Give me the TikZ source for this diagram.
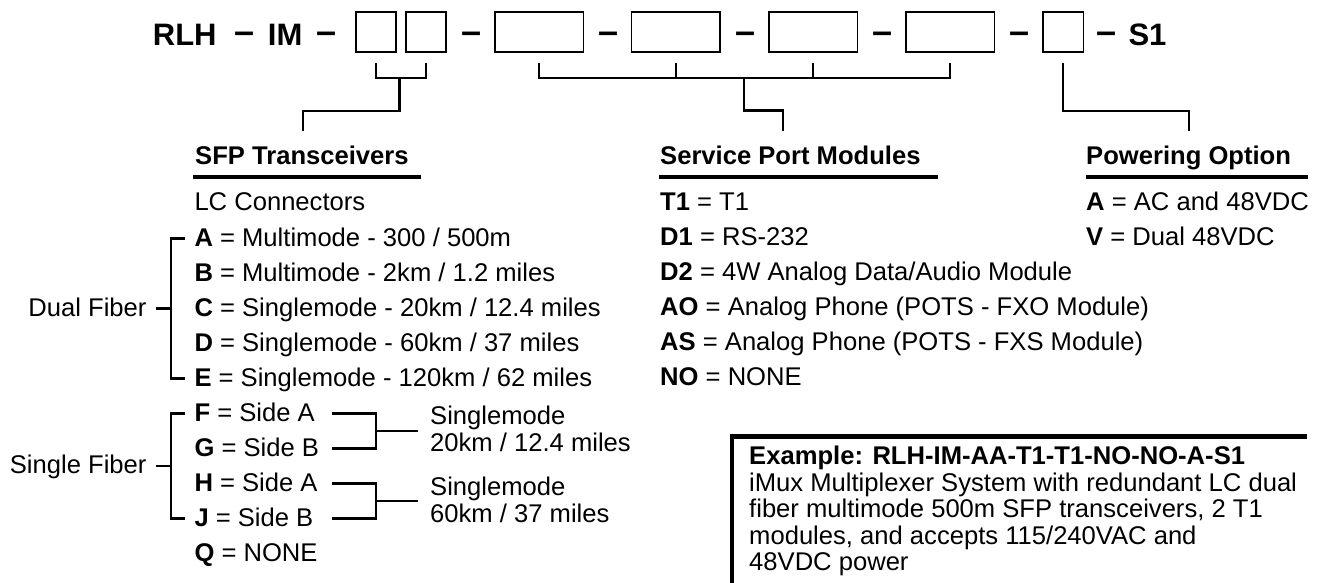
\documentclass[tikz,border=0pt]{standalone}
\usepackage{fontspec}
\setmainfont{Liberation Sans}
\usetikzlibrary{calc}
\begin{document}
\begin{tikzpicture}[x=1pt,y=-1pt,
  txt/.style={anchor=base west, inner sep=0pt, font=\fontsize{25.6}{30}\selectfont},
  hdr/.style={anchor=base west, inner sep=0pt, font=\fontsize{25.6}{30}\selectfont\bfseries},
  ttl/.style={anchor=base west, inner sep=0pt, font=\fontsize{31}{36}\selectfont\bfseries},
  dsh/.style={anchor=base, inner sep=0pt, font=\fontsize{36}{40}\selectfont\bfseries},
  slot/.style={draw, line width=1.5pt, minimum height=40.2pt, inner sep=0pt},
  nslot/.style={slot, minimum width=40.2pt},
  wslot/.style={slot, minimum width=88.5pt},
  brk/.style={line width=2.2pt},
  rulebar/.style={line width=3.5pt},
  frame/.style={line width=4.5pt}
]
\useasboundingbox (0,0) rectangle (1319,582);

% ---------- title row ----------
\node[ttl] (rlh) at (152.7,45.7) {RLH};
\node[dsh] (d0) at (245,43) {–};
\node[ttl] (im) at (267.7,45.7) {IM};
\node[dsh] (d1) at (326.7,43) {–};
\node[nslot] (b1) at (375.85,31.85) {};
\node[nslot] (b2) at (425.85,31.85) {};
\node[dsh] (d2) at (471.3,43) {–};
\node[wslot] (b3) at (539,31.85) {};
\node[dsh] (d3) at (608.7,43) {–};
\node[wslot] (b4) at (675.7,31.85) {};
\node[dsh] (d4) at (745,43) {–};
\node[wslot] (b5) at (813.3,31.85) {};
\node[dsh] (d5) at (882,43) {–};
\node[wslot] (b6) at (950,31.85) {};
\node[dsh] (d6) at (1019.7,43) {–};
\node[nslot] (b7) at (1063.15,31.85) {};
\node[dsh] (d7) at (1106.7,43) {–};
\node[ttl] (s1) at (1128.3,45.7) {S1};

% ---------- level coordinates ----------
\coordinate (top) at (0,63.3);
\coordinate (mid) at (0,78.3);
\coordinate (lv1) at (0,111);
\coordinate (lv2) at (0,110.5);

% ---------- headers ----------
\node[hdr] (sfp) at (195,164) {SFP Transceivers};
\node[hdr] (spm) at (660,164) {Service Port Modules};
\node[hdr] (pwr) at (1086,164) {Powering Option};
\draw[rulebar] (193,177) -- (421,177);
\draw[rulebar] (659,177) -- (938,177);
\draw[rulebar] (1086,177) -- (1308,177);

% ---------- connectors from slots ----------
\coordinate (sfpj) at (399.5,78.3);
\coordinate (sfpe) at (303.3,130.7);
\draw[brk] (b1.south |- top) |- (b2.south |- mid) -- (b2.south |- top);
\draw[brk] (sfpj) |- (sfpe |- lv1) -- (sfpe);

\coordinate (spj) at (744,78.3);
\coordinate (spe) at (783.3,130.7);
\draw[brk] (b3.south |- top) |- (b6.south |- mid) -- (b6.south |- top);
\draw[brk] (b4.south |- top) -- (b4.south |- mid);
\draw[brk] (b5.south |- top) -- (b5.south |- mid);
\draw[brk] (spj) |- (spe |- lv2) -- (spe);

\coordinate (pwe) at (1189,130.7);
\draw[brk] (b7.south |- top) |- (pwe |- lv1) -- (pwe);

% ---------- SFP column ----------
\node[txt] (lc) at (194.3,210) {LC Connectors};
\node[txt] (rA) at (194.3,246) {\textbf{A} = Multimode - 300 / 500m};
\node[txt] (rB) at (194.3,281) {\textbf{B} = Multimode - 2km / 1.2 miles};
\node[txt] (rC) at (194.3,316) {\textbf{C} = Singlemode - 20km / 12.4 miles};
\node[txt] (rD) at (194.3,351) {\textbf{D} = Singlemode - 60km / 37 miles};
\node[txt] (rE) at (194.3,386) {\textbf{E} = Singlemode - 120km / 62 miles};
\node[txt] (rF) at (194.3,421) {\textbf{F} = Side A};
\node[txt] (rG) at (194.3,456) {\textbf{G} = Side B};
\node[txt] (rH) at (194.3,491) {\textbf{H} = Side A};
\node[txt] (rJ) at (194.3,526) {\textbf{J} = Side B};
\node[txt] (rQ) at (194.3,561) {\textbf{Q} = NONE};

\node[txt, anchor=base east] (dual) at (146.7,316) {Dual Fiber};
\node[txt, anchor=base east] (single) at (146.7,473.5) {Single Fiber};

% dual fiber bracket
\draw[brk] ($(rA.base west)+(-9.3,-7.5)$) -- ($(rA.base west)+(-23.6,-7.5)$)
  -- ($(rE.base west)+(-23.6,-7.5)$) -- ($(rE.base west)+(-9.3,-7.5)$);
\draw[brk] ($(dual.base east)+(9,-7.5)$) -- ($(rC.base west)+(-23.6,-7.5)$);
% single fiber bracket
\draw[brk] ($(rF.base west)+(-9.3,-7.5)$) -- ($(rF.base west)+(-23.6,-7.5)$)
  -- ($(rJ.base west)+(-23.6,-7.5)$) -- ($(rJ.base west)+(-9.3,-7.5)$);
\draw[brk] ($(single.base east)+(9,-7.5)$) -- ($(single.base east)+(23.9,-7.5)$);

% singlemode groups
\node[txt] (sma1) at (430,424.5) {Singlemode};
\node[txt] (sma2) at (430,451.2) {20km / 12.4 miles};
\node[txt] (smb1) at (430,495.5) {Singlemode};
\node[txt] (smb2) at (430,522.2) {60km / 37 miles};

\coordinate (fj) at (376,431);
\coordinate (hj) at (376,501);
\draw[brk] (331.7,413.5) -| (fj) |- (331.7,448.5);
\draw[brk] (fj) -- (418.3,431);
\draw[brk] (331.7,483.5) -| (hj) |- (331.7,518.5);
\draw[brk] (hj) -- (418.3,501);

% ---------- Service port column ----------
\node[txt] (t1) at (660,210) {\textbf{T1} = T1};
\node[txt] (dd1) at (660,245) {\textbf{D1} = RS-232};
\node[txt] (dd2) at (660,280) {\textbf{D2} = 4W Analog Data/Audio Module};
\node[txt] (ao) at (660,315) {\textbf{AO} = Analog Phone (POTS - FXO Module)};
\node[txt] (as) at (660,350) {\textbf{AS} = Analog Phone (POTS - FXS Module)};
\node[txt] (no) at (660,385) {\textbf{NO} = NONE};

% ---------- Powering column ----------
\node[txt] (pa) at (1086,210) {\textbf{A} = AC and 48VDC};
\node[txt] (pv) at (1086,245) {\textbf{V} = Dual 48VDC};

% ---------- Example ----------
\draw[frame] (1307,436.7) -- (732,436.7) -- (732,592);
\node[hdr] (ex) at (749,464) {Example: RLH-IM-AA-T1-T1-NO-NO-A-S1};
\node[txt] (ex1) at (749,491) {iMux Multiplexer System with redundant LC dual};
\node[txt] (ex2) at (749,517.5) {fiber multimode 500m SFP transceivers, 2 T1};
\node[txt] (ex3) at (749,544) {modules, and accepts 115/240VAC and};
\node[txt] (ex4) at (749,570.5) {48VDC power};
\end{tikzpicture}
\end{document}
